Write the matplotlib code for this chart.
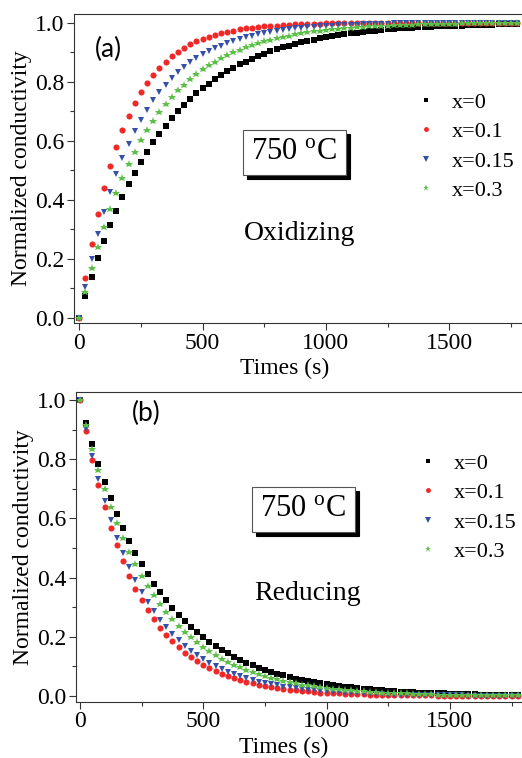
import numpy as np
import matplotlib
matplotlib.use("Agg")
import matplotlib.pyplot as plt
from matplotlib.transforms import offset_copy

# time axis, one reading every 25 s
times = np.arange(0, 1800, 25)
labels = ["x=0", "x=0.1", "x=0.15", "x=0.3"]

# oxidizing step, normalized conductivity
ox_x0 = [0.0, 0.072, 0.139, 0.202, 0.259, 0.313, 0.363, 0.409, 0.452, 0.491, 0.528, 0.562,
         0.594, 0.623, 0.650, 0.676, 0.699, 0.721, 0.741, 0.760, 0.777, 0.793, 0.808, 0.822,
         0.835, 0.847, 0.858, 0.868, 0.878, 0.887, 0.895, 0.902, 0.910, 0.916, 0.922, 0.928,
         0.933, 0.938, 0.942, 0.946, 0.950, 0.954, 0.957, 0.960, 0.963, 0.966, 0.968, 0.971,
         0.973, 0.975, 0.977, 0.978, 0.980, 0.981, 0.983, 0.984, 0.985, 0.986, 0.987, 0.988,
         0.989, 0.990, 0.990, 0.991, 0.992, 0.992, 0.993, 0.993, 0.994, 0.994, 0.995, 0.995]
ox_x01 = [0.0, 0.135, 0.251, 0.352, 0.439, 0.514, 0.580, 0.636, 0.685, 0.728, 0.764, 0.796,
          0.823, 0.847, 0.868, 0.886, 0.901, 0.914, 0.926, 0.936, 0.944, 0.952, 0.958, 0.964,
          0.969, 0.973, 0.977, 0.980, 0.983, 0.985, 0.987, 0.989, 0.990, 0.992, 0.993, 0.994,
          0.994, 0.995, 0.996, 0.996, 0.997, 0.997, 0.998, 0.998, 0.998, 0.999, 0.999, 0.999,
          0.999, 0.999, 0.999, 1.0, 1.0, 1.0, 1.0, 1.0, 1.0, 1.0, 1.0, 1.0,
          1.0, 1.0, 1.0, 1.0, 1.0, 1.0, 1.0, 1.0, 1.0, 1.0, 1.0, 1.0]
ox_x015 = [0.0, 0.105, 0.199, 0.283, 0.359, 0.426, 0.487, 0.541, 0.589, 0.632, 0.671, 0.705,
           0.736, 0.764, 0.789, 0.811, 0.831, 0.849, 0.865, 0.879, 0.892, 0.903, 0.913, 0.922,
           0.931, 0.938, 0.944, 0.950, 0.955, 0.960, 0.964, 0.968, 0.971, 0.974, 0.977, 0.980,
           0.982, 0.984, 0.985, 0.987, 0.988, 0.989, 0.991, 0.992, 0.992, 0.993, 0.994, 0.995,
           0.995, 0.996, 0.996, 0.997, 0.997, 0.997, 0.998, 0.998, 0.998, 0.998, 0.998, 0.999,
           0.999, 0.999, 0.999, 0.999, 0.999, 0.999, 0.999, 0.999, 0.999, 1.0, 1.0, 1.0]
ox_x03 = [0.0, 0.088, 0.168, 0.241, 0.308, 0.368, 0.424, 0.474, 0.521, 0.563, 0.601, 0.636,
          0.668, 0.697, 0.724, 0.748, 0.770, 0.790, 0.809, 0.826, 0.841, 0.855, 0.868, 0.879,
          0.890, 0.900, 0.908, 0.916, 0.924, 0.930, 0.937, 0.942, 0.947, 0.952, 0.956, 0.960,
          0.963, 0.967, 0.970, 0.972, 0.975, 0.977, 0.979, 0.981, 0.982, 0.984, 0.985, 0.987,
          0.988, 0.989, 0.990, 0.991, 0.992, 0.992, 0.993, 0.994, 0.994, 0.995, 0.995, 0.996,
          0.996, 0.996, 0.997, 0.997, 0.997, 0.997, 0.998, 0.998, 0.998, 0.998, 0.998, 0.999]

# reducing step
red_x0 = [1.0, 0.923, 0.851, 0.785, 0.724, 0.668, 0.616, 0.569, 0.525, 0.484, 0.446, 0.412,
          0.380, 0.350, 0.323, 0.298, 0.275, 0.254, 0.234, 0.216, 0.199, 0.184, 0.170, 0.156,
          0.144, 0.133, 0.123, 0.113, 0.105, 0.096, 0.089, 0.082, 0.076, 0.070, 0.064, 0.059,
          0.055, 0.051, 0.047, 0.043, 0.040, 0.037, 0.034, 0.031, 0.029, 0.027, 0.024, 0.023,
          0.021, 0.019, 0.018, 0.016, 0.015, 0.014, 0.013, 0.012, 0.011, 0.010, 0.009, 0.009,
          0.008, 0.007, 0.007, 0.006, 0.006, 0.005, 0.005, 0.005, 0.004, 0.004, 0.004, 0.003]
red_x01 = [1.0, 0.894, 0.798, 0.713, 0.637, 0.569, 0.509, 0.455, 0.406, 0.363, 0.324, 0.290,
           0.259, 0.231, 0.207, 0.185, 0.165, 0.147, 0.132, 0.118, 0.105, 0.094, 0.084, 0.075,
           0.067, 0.060, 0.054, 0.048, 0.043, 0.038, 0.034, 0.030, 0.027, 0.024, 0.022, 0.019,
           0.017, 0.016, 0.014, 0.012, 0.011, 0.010, 0.009, 0.008, 0.007, 0.006, 0.006, 0.005,
           0.004, 0.004, 0.004, 0.003, 0.003, 0.003, 0.002, 0.002, 0.002, 0.002, 0.001, 0.001,
           0.001, 0.001, 0.001, 0.001, 0.001, 0.001, 0.001, 0.001, 0.0, 0.0, 0.0, 0.0]
red_x015 = [1.0, 0.901, 0.812, 0.732, 0.659, 0.594, 0.535, 0.482, 0.435, 0.392, 0.353, 0.318,
            0.287, 0.258, 0.233, 0.210, 0.189, 0.170, 0.153, 0.138, 0.125, 0.112, 0.101, 0.091,
            0.082, 0.074, 0.067, 0.060, 0.054, 0.049, 0.044, 0.040, 0.036, 0.032, 0.029, 0.026,
            0.024, 0.021, 0.019, 0.017, 0.016, 0.014, 0.013, 0.011, 0.010, 0.009, 0.008, 0.007,
            0.007, 0.006, 0.005, 0.005, 0.004, 0.004, 0.004, 0.003, 0.003, 0.003, 0.002, 0.002,
            0.002, 0.002, 0.002, 0.001, 0.001, 0.001, 0.001, 0.001, 0.001, 0.001, 0.001, 0.001]
red_x03 = [1.0, 0.914, 0.835, 0.764, 0.698, 0.638, 0.583, 0.533, 0.487, 0.445, 0.407, 0.372,
           0.340, 0.311, 0.284, 0.260, 0.237, 0.217, 0.198, 0.181, 0.166, 0.151, 0.138, 0.126,
           0.116, 0.106, 0.097, 0.088, 0.081, 0.074, 0.067, 0.062, 0.056, 0.051, 0.047, 0.043,
           0.039, 0.036, 0.033, 0.030, 0.027, 0.025, 0.023, 0.021, 0.019, 0.017, 0.016, 0.015,
           0.013, 0.012, 0.011, 0.010, 0.009, 0.009, 0.008, 0.007, 0.007, 0.006, 0.005, 0.005,
           0.005, 0.004, 0.004, 0.003, 0.003, 0.003, 0.003, 0.002, 0.002, 0.002, 0.002, 0.002]

plt.rcParams['font.family'] = ['Liberation Serif', 'DejaVu Serif']
plt.rcParams['mathtext.fontset'] = 'stix'

colors  = ['#000000', '#f02828', '#3450a8', '#5cbf47']
markers = ['s', 'o', 'v', '*']
msizes  = [3.9, 4.4, 5.0, 6.2]

fig = plt.figure(figsize=(5.22, 7.58), dpi=100)
ax_a = fig.add_axes([74/522, 1 - 323/758, 448/522, 309/758])
ax_b = fig.add_axes([76/522, 1 - 701.7/758, 446/522, 309.4/758])

panels = [
    (ax_a, [ox_x0, ox_x01, ox_x015, ox_x03], (-21.5, 1795), (-0.018, 1.029)),
    (ax_b, [red_x0, red_x01, red_x015, red_x03], (-16, 1792), (-0.019, 1.026)),
]

for ax, series, xlim, ylim in panels:
    for ys, c, m, ms, lab in zip(series, colors, markers, msizes, labels):
        ax.plot(times, ys, linestyle='none', marker=m, color=c, ms=ms,
                markeredgewidth=0, label=lab)
    ax.set_xlim(*xlim)
    ax.set_ylim(*ylim)
    ax.set_xticks([0, 500, 1000, 1500])
    ax.set_xticks([250, 750, 1250, 1750], minor=True)
    ax.set_yticks([0.0, 0.2, 0.4, 0.6, 0.8, 1.0])
    ax.set_yticks([0.1, 0.3, 0.5, 0.7, 0.9], minor=True)
    ax.set_yticklabels(['0.0', '0.2', '0.4', '0.6', '0.8', '1.0'])
    ax.tick_params(which='major', direction='out', length=5, width=0.8,
                   labelsize=17, pad=2, color='#333333')
    ax.tick_params(which='minor', direction='out', length=3, width=0.8, color='#333333')
    ax.spines['right'].set_visible(False)
    for sp in ['left', 'bottom', 'top']:
        ax.spines[sp].set_linewidth(0.8)
        ax.spines[sp].set_color('#333333')
    ax.set_xlabel('Times (s)', fontsize=17)
    ax.set_ylabel('Normalized conductivity', fontsize=17)
    ax.yaxis.set_label_coords(-0.094, 0.5)

ax_a.xaxis.set_label_coords(0.471, -0.113)
ax_b.xaxis.set_label_coords(0.466, -0.114)

# legends
leg_kw = dict(loc='upper left', frameon=False, fontsize=16, handlelength=1.0,
              handletextpad=0.67, labelspacing=0.40, borderpad=0,
              borderaxespad=0, markerscale=0.8)
ax_a.legend(bbox_to_anchor=(0.761, 0.747), **leg_kw)
ax_b.legend(bbox_to_anchor=(0.764, 0.803), **leg_kw)

# panel tags and condition labels
ax_a.text(120, 0.91, '(a)', family='Lato', fontsize=19, ha='center', va='center')
ax_b.text(268, 0.956, '(b)', family='Lato', fontsize=19, ha='center', va='center')
ax_a.text(895, 0.284, 'Oxidizing', fontsize=20, ha='center', va='center')
ax_b.text(922, 0.348, 'Reducing', fontsize=20, ha='center', va='center')

# temperature boxes with drop shadow
box_txt = r'750 $^\mathregular{o}$C'
for ax, bx, by in [(ax_a, 873, 0.559), (ax_b, 905, 0.63)]:
    shadow = offset_copy(ax.transData, fig=fig, x=4, y=-4, units='dots')
    ax.text(bx, by, box_txt, fontsize=22, ha='center', va='center', color='black',
            transform=shadow,
            bbox=dict(boxstyle='square,pad=0.27', fc='black', ec='black', lw=0.8))
    ax.text(bx, by, box_txt, fontsize=22, ha='center', va='center',
            bbox=dict(boxstyle='square,pad=0.27', fc='white', ec='#555555', lw=0.8))

fig.savefig('out.png', dpi=100)
